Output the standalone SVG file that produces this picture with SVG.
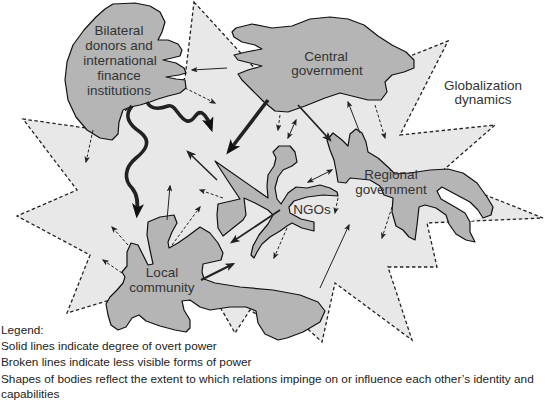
<svg xmlns="http://www.w3.org/2000/svg" width="545" height="402" viewBox="0 0 545 402">
<defs>
<style>
.star{fill:#e8e8e8;stroke:#222;stroke-width:1.3;stroke-dasharray:3.5,2.5}
.blob{fill:#b5b5b5;stroke:#111;stroke-width:1.2;stroke-linejoin:round}
.lbl{font-family:"Liberation Sans",Arial,sans-serif;font-size:13.5px;fill:#333;text-anchor:middle}
.leg{font-family:"Liberation Sans",Arial,sans-serif;font-size:11.8px;fill:#222}
.c{fill:none;stroke:#222}
.thick{stroke-width:3.6;marker-end:url(#ahL)}
.med{stroke-width:1.8;marker-end:url(#ahM)}
.thin{stroke-width:1;marker-end:url(#ah)}
.dbl{stroke-width:1;marker-end:url(#ah);marker-start:url(#ah)}
.dash{stroke-width:1;stroke-dasharray:3,2;marker-end:url(#ah)}
</style>
<marker id="ah" viewBox="0 0 10 8" refX="8" refY="4" markerWidth="7" markerHeight="5.6" orient="auto-start-reverse" markerUnits="userSpaceOnUse"><path d="M0,0 L10,4 L0,8 L2.5,4 z" fill="#222"/></marker>
<marker id="ahM" viewBox="0 0 10 8" refX="7.5" refY="4" markerWidth="10" markerHeight="8" orient="auto" markerUnits="userSpaceOnUse"><path d="M0,0 L10,4 L0,8 L2.5,4 z" fill="#222"/></marker>
<marker id="ahL" viewBox="0 0 10 8" refX="7" refY="4" markerWidth="15" markerHeight="12" orient="auto" markerUnits="userSpaceOnUse"><path d="M0,0 L10,4 L0,8 L2.5,4 z" fill="#111"/></marker>
</defs>
<rect width="545" height="402" fill="#fff"/>
<g id="globalization">
<path class="star" d="M194,2 L270,85 L395,62 L448,41 L400,135 L495,125 L432,180 L458,184 L483,194 L543,218 L472,221 L427,223 L437,267 L388,267 L412,340 L335,283 L322,342 L300,322 L262,318 L250,310 L235,333 L223,312 L215,300 L160,300 L120,300 L107,301 L67,313 L90,255 L17,216 L77,190 L23,119 L93,129 L110,120 L148,96 L178,86 L185,78 Z"/>
<text class="lbl" x="483" y="90">Globalization</text>
<text class="lbl" x="483" y="104">dynamics</text>
</g>
<g id="bilateral">
<path class="blob" d="M113,4 L135,3 L150,6 L160,12 L165,22 L162,32 L158,40 L168,40 L178,44 L182,50 L180,56 L172,58 L163,60 L176,63 L184,68 L186,73 L179,75 L166,77 L176,79 L185,80 L186,88 L180,93 L168,96 L158,99 L150,102 L140,105 L130,107 L123,110 L119,122 L118,134 L112,140 L100,138 L87,130 L76,117 L68,100 L65,80 L67,62 L73,45 L84,30 L96,17 L105,9 Z"/>
<text class="lbl" x="119" y="35">Bilateral</text>
<text class="lbl" x="119" y="50">donors and</text>
<text class="lbl" x="120" y="65">international</text>
<text class="lbl" x="119" y="80">finance</text>
<text class="lbl" x="119" y="95">institutions</text>
</g>
<g id="central">
<path class="blob" d="M236,28 L252,24 L272,28 L292,26 L310,19 L330,17 L348,19 L364,25 L378,36 L392,45 L406,52 L414,60 L414,68 L404,72 L392,75 L385,82 L387,92 L381,100 L368,100 L352,96 L340,93 L325,98 L305,106 L288,112 L275,111 L264,102 L252,90 L242,80 L238,74 L248,70 L262,66 L250,63 L238,60 L234,55 L246,52 L262,49 L255,45 L242,42 L234,37 L232,32 Z"/>
<text class="lbl" x="326" y="61">Central</text>
<text class="lbl" x="327" y="75">government</text>
</g>
<g id="regional">
<path fill="#fff" d="M442,187 L437,191 L441,199 L455,207 L465,213 L470,222 L478,218 L483,218 L478,210 L470,202 L455,194 Z"/>
<path class="blob" d="M327,140 L333,133 L342,140 L348,146 L350,134 L356,129 L362,133 L366,142 L368,152 L378,158 L388,167 L395,174 L410,173 L430,170 L448,169 L463,173 L477,183 L487,197 L493,207 L491,215 L483,218 L478,210 L470,202 L455,194 L442,187 L437,191 L441,199 L455,207 L465,213 L470,222 L470,232 L475,242 L466,240 L456,234 L449,224 L446,215 L436,208 L425,205 L419,207 L417,225 L415,240 L409,237 L403,230 L396,226 L392,212 L393,198 L384,195 L380,186 L370,180 L350,178 L346,183 L338,182 L336,170 L334,160 L330,150 Z"/>
<text class="lbl" x="391" y="179">Regional</text>
<text class="lbl" x="391" y="194">government</text>
</g>
<g id="ngos">
<path class="blob" d="M215,161 L268,198 L267,186 L268,175 L274,166 L276,158 L273,152 L279,146 L290,146 L295,152 L297,162 L292,166 L283,170 L278,177 L275,188 L277,199 L281,204 L288,193 L296,187 L307,188 L320,185 L330,188 L337,192 L338,196 L323,195 L307,197 L294,201 L289,207 L290,213 L301,219 L314,222 L314,231 L302,228 L292,223 L287,226 L280,231 L270,237 L262,244 L257,252 L254,258 L251,255 L253,246 L259,235 L268,224 L273,215 L268,210 L255,203 L244,198 L246,215 L243,220 L233,228 L223,236 L218,228 L217,215 L218,204 L240,199 L228,181 Z"/>
<text class="lbl" x="312" y="214">NGOs</text>
</g>
<g id="local">
<path class="blob" d="M148,222 L160,217 L174,215 L177,223 L172,232 L168,242 L169,248 L178,243 L188,236 L200,227 L210,233 L218,243 L223,253 L221,260 L212,262 L203,264 L202,272 L204,279 L215,283 L240,287 L273,290 L300,295 L318,302 L325,311 L320,322 L303,332 L287,338 L278,340 L265,334 L258,323 L256,311 L246,307 L230,307 L210,310 L200,307 L190,300 L182,301 L184,310 L190,320 L190,328 L186,332 L175,330 L160,326 L146,321 L139,315 L132,318 L126,327 L118,330 L111,325 L108,315 L106,304 L110,297 L117,290 L123,283 L125,277 L122,272 L127,266 L127,252 L131,243 L138,245 L143,255 L148,265 L153,264 L150,250 L147,235 Z"/>
<text class="lbl" x="162" y="277">Local</text>
<text class="lbl" x="162" y="292">community</text>
</g>
<g id="connectors">
<path class="c thick" d="M268,100 L229,151"/>
<path class="c thick" d="M132,106 C124,115 128,124 140,132 C152,141 146,150 136,158 C124,168 124,180 132,188 C138,195 138,204 137,214"/>
<path class="c thick" d="M147,102 C151,110 160,109 168,106 C176,104 178,118 187,121 C195,123 195,110 202,113 C207,116 209,122 211,128"/>
<path class="c med" d="M298,105 L330,140"/>
<path class="c med" d="M280,210 L232,242"/>
<path class="c med" style="stroke-width:2" d="M201,280 L233,264"/>
<path class="c med" style="stroke-width:1.5" d="M217,180 L188,152"/>
<path class="c thin" d="M227,68 L192,70"/>
<path class="c thin" d="M360,133 L348,102"/>
<path class="c dbl" d="M288,138 L296,120"/>
<path class="c dbl" d="M308,182 L332,170"/>
<path class="c thin" d="M320,288 L349,225"/>
<path class="c thin" d="M167,220 L170,186"/>
<path class="c dash" d="M185,88 L215,103"/>
<path class="c dash" d="M280,115 L278,130"/>
<path class="c dash" d="M93,130 L86,162"/>
<path class="c dash" d="M375,105 L385,138"/>
<path class="c dash" d="M392,207 L382,238"/>
<path class="c dash" d="M338,198 L335,213"/>
<path class="c dash" d="M287,228 L274,258"/>
<path class="c dash" d="M223,198 L200,190"/>
<path class="c dash" d="M172,245 L200,207"/>
<path class="c dash" d="M128,245 L112,227"/>
<path class="c dash" d="M122,273 L103,260"/>
</g>
<g id="legend">
<text class="leg" x="1" y="334">Legend:</text>
<text class="leg" x="1" y="350">Solid lines indicate degree of overt power</text>
<text class="leg" x="1" y="366">Broken lines indicate less visible forms of power</text>
<text class="leg" x="1" y="383">Shapes of bodies reflect the extent to which relations impinge on or influence each other’s identity and</text>
<text class="leg" x="1" y="398">capabilities</text>
</g>
</svg>
